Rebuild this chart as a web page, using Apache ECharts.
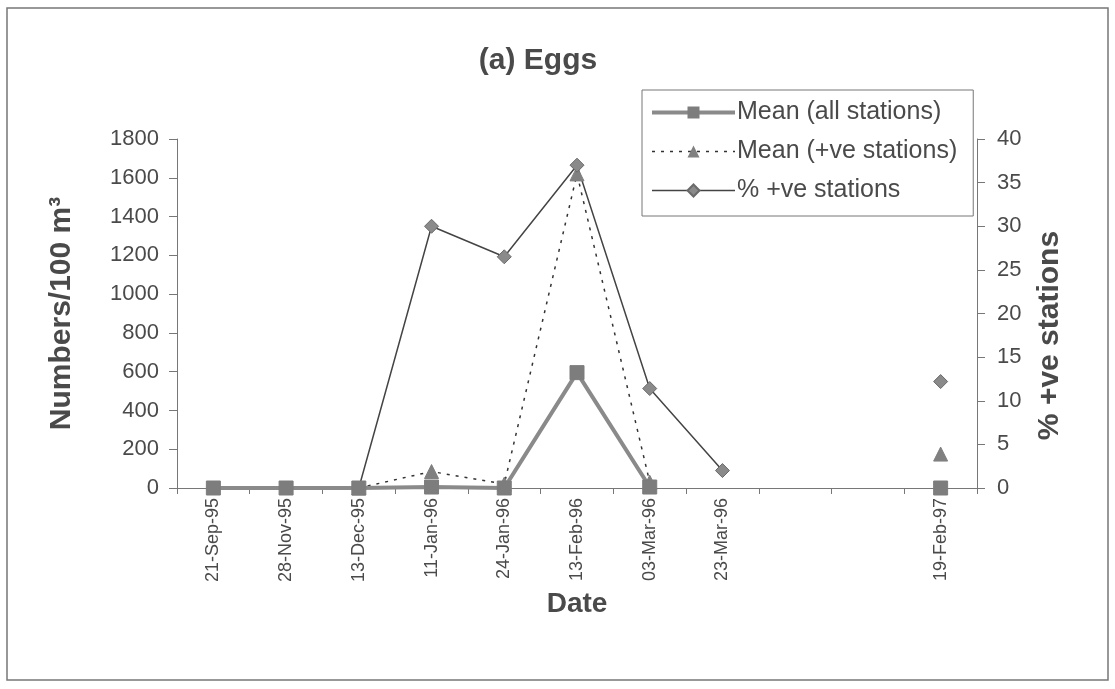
<!DOCTYPE html>
<html>
<head>
<meta charset="utf-8">
<script src="https://cdn.jsdelivr.net/npm/echarts@6/dist/echarts.min.js"></script>
<style>html,body{margin:0;padding:0;background:#fff;}#c{width:1115px;height:689px;}</style>
</head>
<body>
<div id="c"></div>
<script>
const categories = ['21-Sep-95','28-Nov-95','13-Dec-95','11-Jan-96','24-Jan-96','13-Feb-96','03-Mar-96','23-Mar-96',' ','  ','19-Feb-97'];
const meanAll = [0, 0, 0, 5, 0, 595, 5, null, null, null, 0];
const meanPos = [null, null, 0, 85, 20, 1620, 30, null, null, null, 175];
const pctPos = [0, 0, 0, 30, 26.5, 37, 11.4, 2, null, null, 12.2];
const leftTicks = [0, 1800, 200];
const rightTicks = [0, 40, 5];

const FONT = 'Liberation Sans, Arial, sans-serif';
const TXT = '#4a4a4a';
const chart = echarts.init(document.getElementById('c'));
chart.setOption({
  backgroundColor: '#fff',
  animation: false,
  title: {
    text: '(a) Eggs', left: 533, top: 41, textAlign: 'center',
    textStyle: {fontFamily: FONT, fontSize: 30, fontWeight: 'bold', color: TXT}
  },
  graphic: [{
    type: 'rect', shape: {x: 7, y: 8, width: 1101, height: 672},
    style: {fill: 'none', stroke: '#777', lineWidth: 1.5}, silent: true
  }],
  legend: {
    orient: 'vertical', left: 642, top: 90,
    itemWidth: 83, itemHeight: 15, itemGap: 14,
    padding: [10, 16, 13, 8],
    borderColor: '#777', borderWidth: 1,
    textStyle: {fontFamily: FONT, fontSize: 25, color: TXT, padding: [0, 0, 0, -3]},
    data: [
      {name: 'Mean (all stations)', lineStyle: {width: 4, color: '#8a8a8a'}},
      {name: 'Mean (+ve stations)', lineStyle: {width: 1.5, color: '#333', type: [3, 6]}},
      {name: '% +ve stations', lineStyle: {width: 1.5, color: '#444'}}
    ]
  },
  grid: {left: 177, right: 138, top: 139, bottom: 201},
  xAxis: {
    type: 'category', data: categories, boundaryGap: true,
    name: 'Date', nameLocation: 'middle', nameGap: 92,
    nameTextStyle: {fontFamily: FONT, fontSize: 28, fontWeight: 'bold', color: TXT},
    axisLine: {lineStyle: {color: '#777', width: 1}},
    axisTick: {show: true, interval: 0, length: 6, lineStyle: {color: '#777'}},
    axisLabel: {rotate: 90, interval: 0, fontFamily: FONT, fontSize: 18, color: TXT, margin: 10}
  },
  yAxis: [{
    type: 'value', min: leftTicks[0], max: leftTicks[1], interval: leftTicks[2],
    name: 'Numbers/100 m³', nameLocation: 'middle', nameGap: 100, nameRotate: 90,
    nameTextStyle: {fontFamily: FONT, fontSize: 30, fontWeight: 'bold', color: TXT},
    axisLine: {show: true, lineStyle: {color: '#777', width: 1}},
    axisTick: {show: true, length: 8, lineStyle: {color: '#777'}},
    splitLine: {show: false},
    axisLabel: {fontFamily: FONT, fontSize: 22, color: TXT, margin: 18, formatter: v => String(v)}
  }, {
    type: 'value', min: rightTicks[0], max: rightTicks[1], interval: rightTicks[2],
    position: 'right',
    name: '% +ve stations', nameLocation: 'middle', nameGap: 58, nameRotate: 90,
    nameTextStyle: {fontFamily: FONT, fontSize: 30, fontWeight: 'bold', color: TXT, padding: [0, 44, 0, 0]},
    axisLine: {show: true, lineStyle: {color: '#777', width: 1}},
    axisTick: {show: true, length: 8, lineStyle: {color: '#777'}},
    splitLine: {show: false},
    axisLabel: {fontFamily: FONT, fontSize: 22, color: TXT, margin: 20}
  }],
  series: [{
    name: 'Mean (all stations)', type: 'line', yAxisIndex: 0, data: meanAll,
    symbol: 'rect', symbolSize: 14, connectNulls: false, z: 3,
    lineStyle: {color: '#8a8a8a', width: 4},
    itemStyle: {color: '#7d7d7d', borderColor: '#7d7d7d'}
  }, {
    name: 'Mean (+ve stations)', type: 'line', yAxisIndex: 0, data: meanPos,
    symbol: 'triangle', symbolSize: 14, connectNulls: false, z: 2,
    lineStyle: {color: '#333', width: 1.5, type: [3, 6]},
    itemStyle: {color: '#808080', borderColor: '#808080'}
  }, {
    name: '% +ve stations', type: 'line', yAxisIndex: 1, data: pctPos,
    symbol: 'diamond', symbolSize: 14, connectNulls: false, z: 2,
    lineStyle: {color: '#444', width: 1.5},
    itemStyle: {color: '#8a8a8a', borderColor: '#6a6a6a', borderWidth: 1}
  }]
});
</script>
</body>
</html>
